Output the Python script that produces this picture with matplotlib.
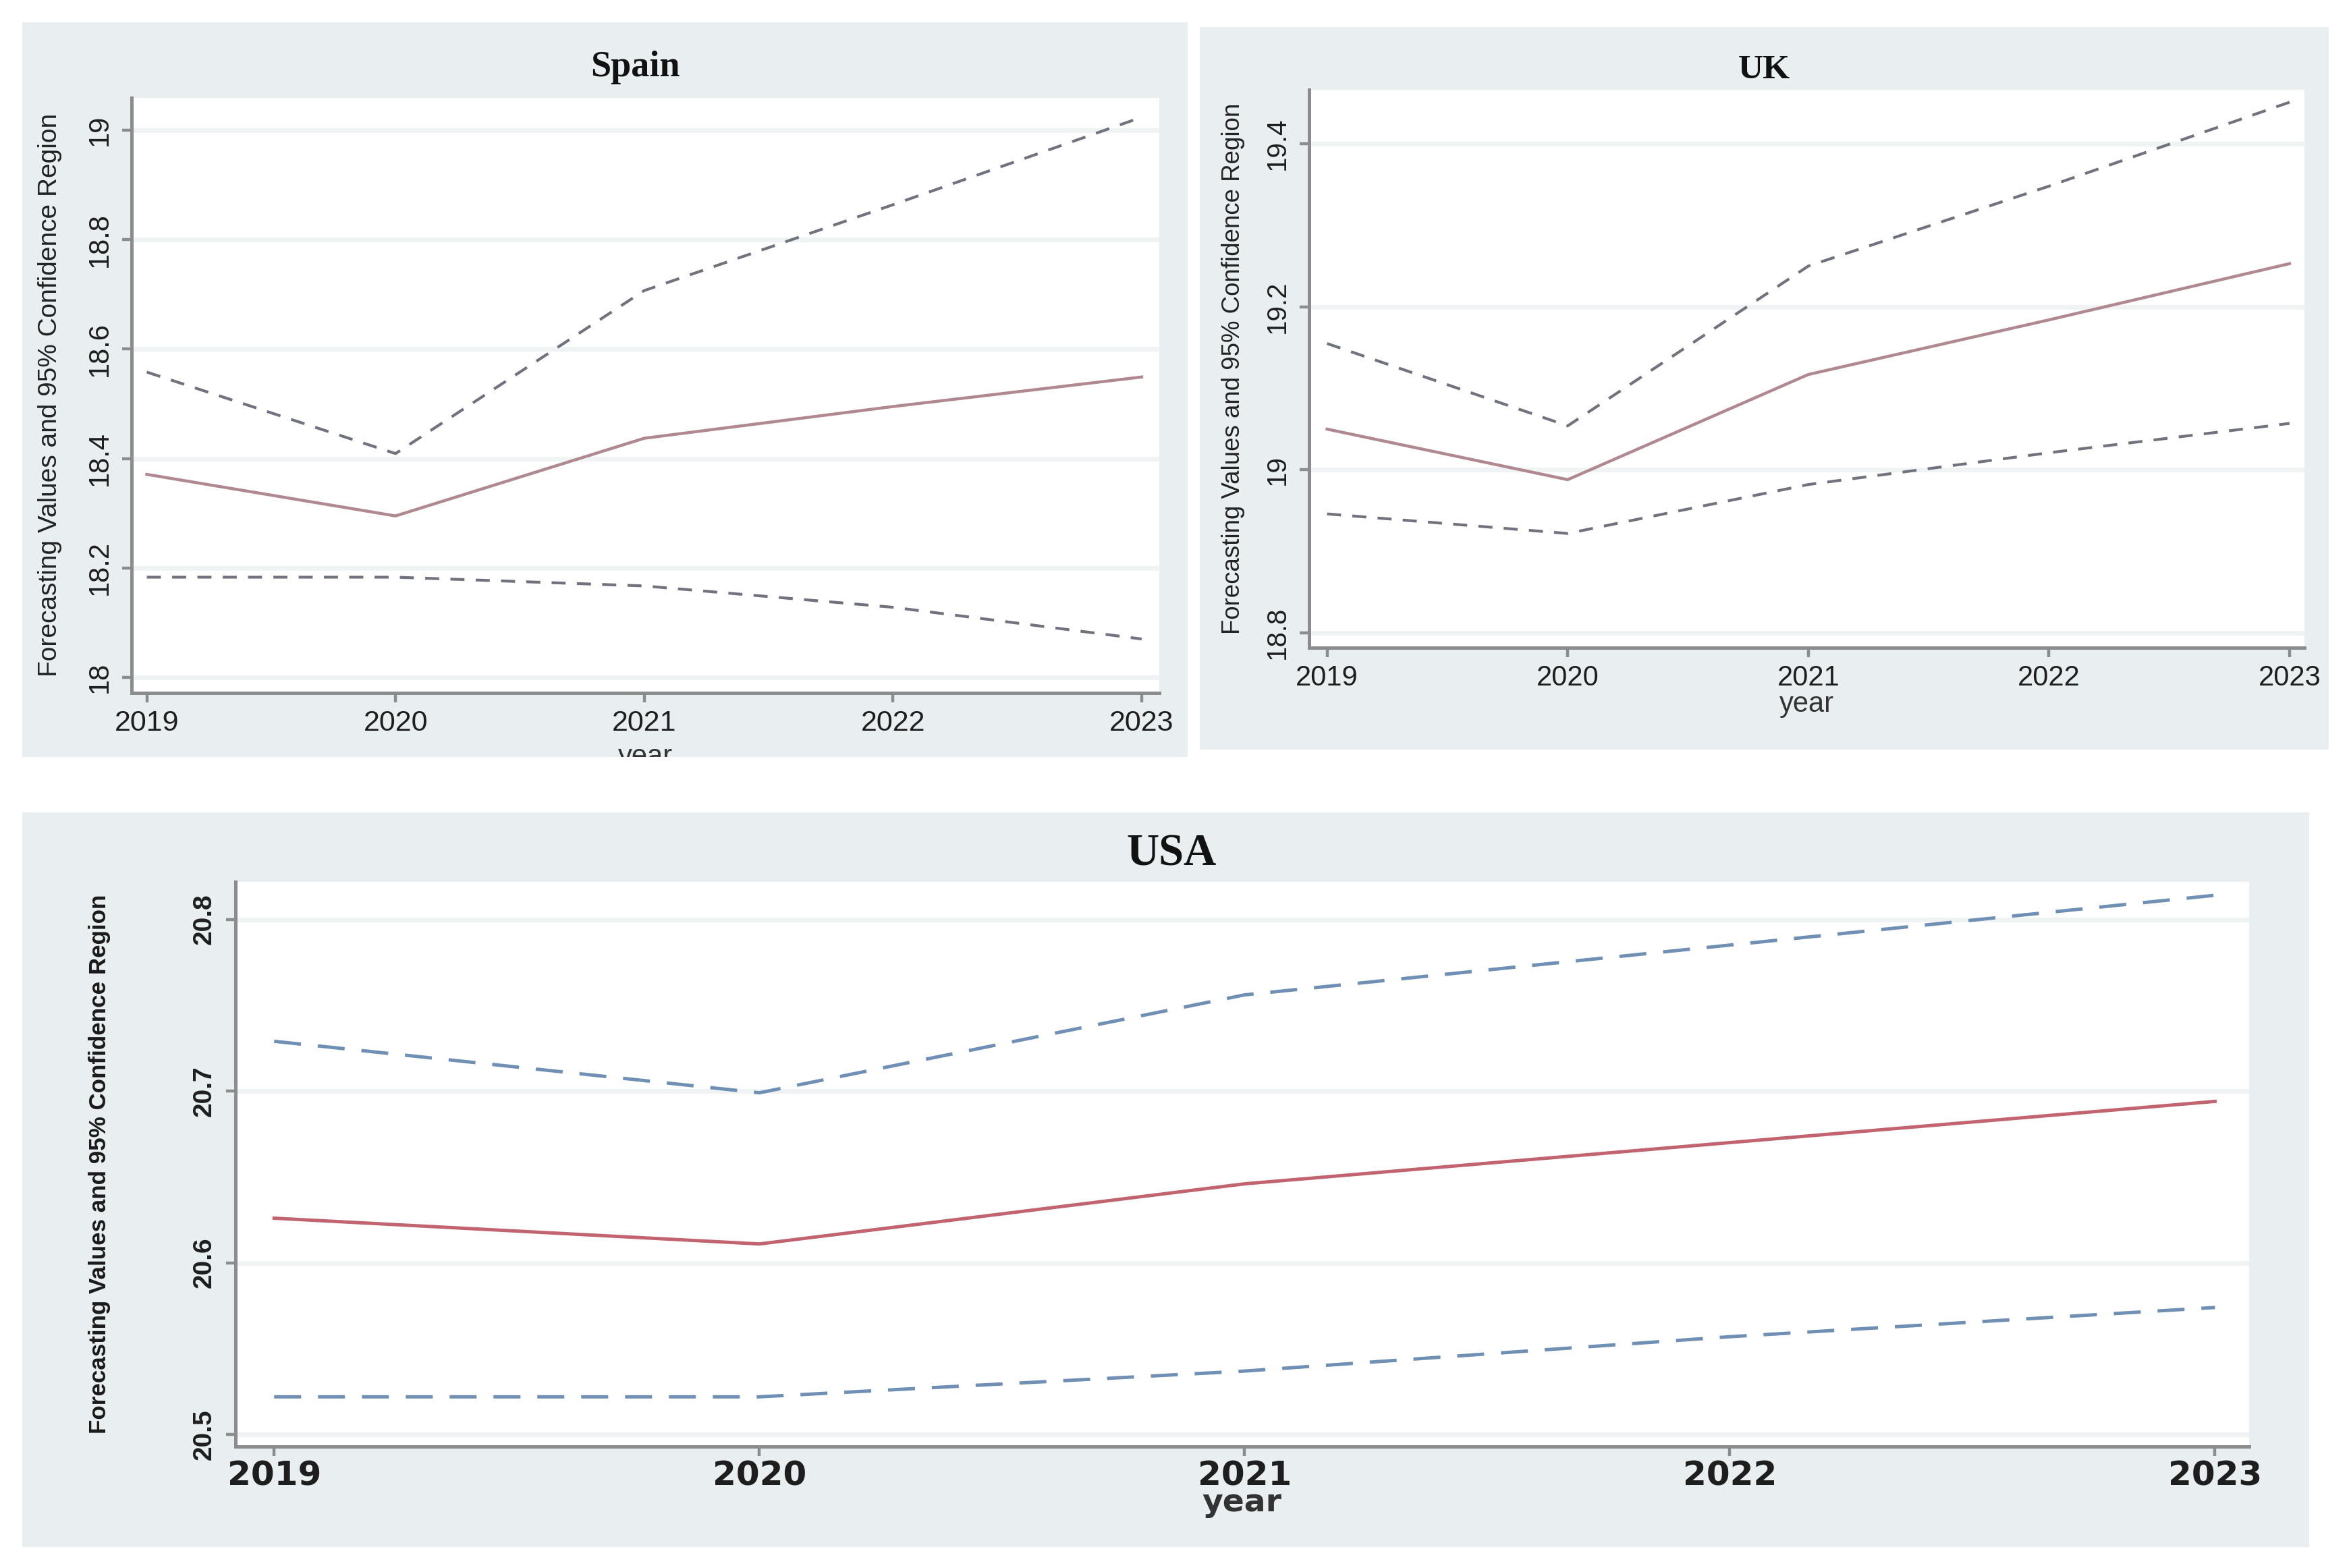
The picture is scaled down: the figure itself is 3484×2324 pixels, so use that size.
import matplotlib
matplotlib.use("Agg")
import matplotlib.pyplot as plt
from matplotlib.patches import Rectangle

# forecast values and 95% confidence bounds
years = [2019, 2020, 2021, 2022, 2023]

spain_upper = [18.558, 18.409, 18.707, 18.864, 19.024]
spain_fc = [18.371, 18.295, 18.437, 18.495, 18.549]
spain_lower = [18.183, 18.183, 18.167, 18.128, 18.070]

uk_upper = [19.155, 19.054, 19.250, 19.348, 19.451]
uk_fc = [19.050, 18.988, 19.117, 19.184, 19.253]
uk_lower = [18.946, 18.922, 18.982, 19.021, 19.057]

usa_upper = [20.729, 20.699, 20.756, 20.785, 20.814]
usa_fc = [20.626, 20.611, 20.646, 20.670, 20.694]
usa_lower = [20.522, 20.522, 20.537, 20.557, 20.574]

spain_yticks = [18, 18.2, 18.4, 18.6, 18.8, 19]
uk_yticks = [18.8, 19, 19.2, 19.4]
usa_yticks = [20.5, 20.6, 20.7, 20.8]

ylab = "Forecasting Values and 95% Confidence Region"
panel_bg = "#e9eff0"
axis_col = "#8a8c8e"
sans = ["Liberation Sans", "DejaVu Sans"]
wide = ["DejaVu Sans"]
serif = ["Liberation Serif", "DejaVu Serif"]

fig = plt.figure(figsize=(17.42, 11.62), dpi=200)
fig.patch.set_facecolor("white")


def panel(bg_rect, ax_rect):
    bg = Rectangle(bg_rect[:2], bg_rect[2], bg_rect[3], transform=fig.transFigure,
                   facecolor=panel_bg, edgecolor="none", zorder=-5)
    fig.patches.append(bg)
    ax = fig.add_axes(ax_rect)
    ax.set_facecolor("white")
    for s in ["top", "right"]:
        ax.spines[s].set_visible(False)
    for s in ["left", "bottom"]:
        ax.spines[s].set_color(axis_col)
        ax.spines[s].set_linewidth(1.8)
    ax.tick_params(length=5, width=1.6, color=axis_col, labelcolor="#1e1e1e")
    ax.grid(axis="y", color="#f0f3f4", linewidth=2.5)
    ax.set_axisbelow(True)
    return ax, bg


# Spain
ax1, bg1 = panel((0.0096, 0.5172, 0.4955, 0.4685), (0.0561, 0.5583, 0.4369, 0.3795))
ax1.plot(years, spain_upper, color="#70737e", lw=1.5, ls=(0, (5, 4)))
ax1.plot(years, spain_fc, color="#b08890", lw=1.6)
ax1.plot(years, spain_lower, color="#70737e", lw=1.5, ls=(0, (5, 4)))
ax1.set_xlim(2018.94, 2023.07)
ax1.set_ylim(17.972, 19.06)
ax1.set_xticks(years)
ax1.set_xticklabels([str(y) for y in years], fontsize=15.5, family=sans)
ax1.set_yticks(spain_yticks)
ax1.set_yticklabels(["%g" % t for t in spain_yticks], rotation=90, va="center",
                    fontsize=15, family=sans)
ax1.tick_params(axis="x", pad=4)
ax1.tick_params(axis="y", pad=5)
ax1.set_ylabel(ylab, fontsize=14, family=sans, color="#222222")
ax1.yaxis.set_label_coords(-0.068, 0.5)
ax1.set_xlabel("year", fontsize=15, family=sans, color="#333333")
ax1.xaxis.set_label_coords(0.5, -0.108)
ax1.xaxis.label.set_va("center")
ax1.xaxis.label.set_clip_path(bg1)
ax1.text(0.49, 1.05, "Spain", transform=ax1.transAxes, ha="center", va="center",
         fontsize=19.5, family=serif, fontweight="bold", color="#111111")

# UK
ax2, bg2 = panel((0.5102, 0.522, 0.4802, 0.4608), (0.5568, 0.587, 0.4234, 0.3556))
ax2.plot(years, uk_upper, color="#70737e", lw=1.5, ls=(0, (5, 4)))
ax2.plot(years, uk_fc, color="#b08890", lw=1.6)
ax2.plot(years, uk_lower, color="#70737e", lw=1.5, ls=(0, (5, 4)))
ax2.set_xlim(2018.925, 2023.062)
ax2.set_ylim(18.782, 19.466)
ax2.set_xticks(years)
ax2.set_xticklabels([str(y) for y in years], fontsize=15, family=sans)
ax2.set_yticks(uk_yticks)
ax2.set_yticklabels(["%g" % t for t in uk_yticks], rotation=90, va="center",
                    fontsize=14.5, family=sans)
ax2.tick_params(axis="x", pad=4)
ax2.tick_params(axis="y", pad=5)
ax2.set_ylabel(ylab, fontsize=13.2, family=sans, color="#222222")
ax2.yaxis.set_label_coords(-0.064, 0.5)
ax2.set_xlabel("year", fontsize=15, family=sans, color="#333333")
ax2.xaxis.set_label_coords(0.5, -0.102)
ax2.xaxis.label.set_va("center")
ax2.text(0.457, 1.035, "UK", transform=ax2.transAxes, ha="center", va="center",
         fontsize=18.5, family=serif, fontweight="bold", color="#111111")

# USA
ax3, bg3 = panel((0.0096, 0.0134, 0.9726, 0.4685), (0.1001, 0.0774, 0.8565, 0.3604))
ax3.plot(years, usa_upper, color="#6f8fb4", lw=1.8, ls=(0, (8, 5)))
ax3.plot(years, usa_fc, color="#c2646f", lw=1.8)
ax3.plot(years, usa_lower, color="#6f8fb4", lw=1.8, ls=(0, (8, 5)))
ax3.set_xlim(2018.92, 2023.07)
ax3.set_ylim(20.493, 20.822)
ax3.set_xticks(years)
ax3.set_xticklabels([str(y) for y in years], fontsize=18, family=wide, fontweight="bold")
ax3.set_yticks(usa_yticks)
ax3.set_yticklabels(["%g" % t for t in usa_yticks], rotation=90, va="center",
                    fontsize=14, family=sans, fontweight="bold")
ax3.tick_params(axis="x", pad=2)
ax3.tick_params(axis="y", pad=5)
ax3.set_ylabel(ylab, fontsize=12.6, family=sans, fontweight="bold", color="#1a1a1a")
ax3.yaxis.set_label_coords(-0.062, 0.5)
ax3.set_xlabel("year", fontsize=17, family=wide, fontweight="bold", color="#333333")
ax3.xaxis.set_label_coords(0.5, -0.1)
ax3.xaxis.label.set_va("center")
ax3.text(0.465, 1.048, "USA", transform=ax3.transAxes, ha="center", va="center",
         fontsize=24, family=serif, fontweight="bold", color="#111111")

fig.savefig("out.png", dpi=200, facecolor="white")
